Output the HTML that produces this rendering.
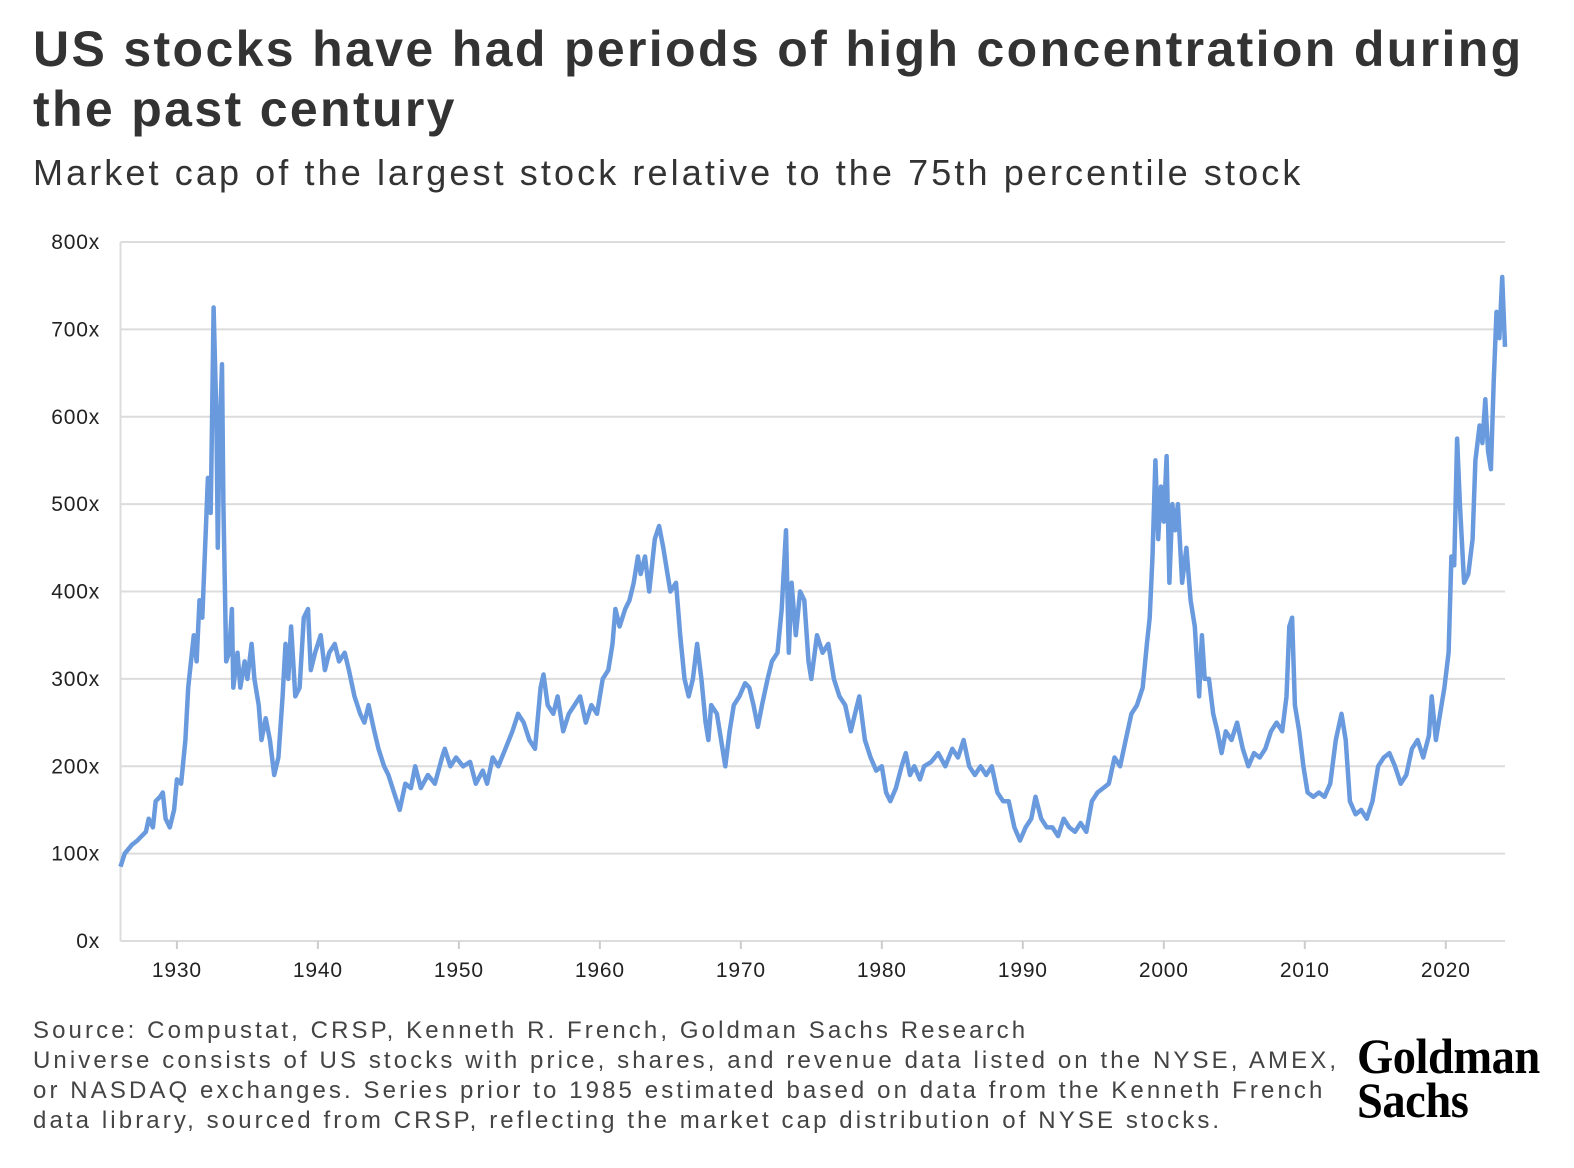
<!DOCTYPE html>
<html><head><meta charset="utf-8">
<style>
body{margin:0;width:1574px;height:1168px;background:#fff;font-family:"Liberation Sans",sans-serif;color:#333;position:relative;overflow:hidden}
#title{position:absolute;left:33px;top:19px;font-size:50px;font-weight:bold;line-height:60px;letter-spacing:2.35px;color:#333;width:1540px;white-space:nowrap}
#subtitle{position:absolute;left:33px;top:152px;font-size:36px;letter-spacing:3.1px;color:#333;white-space:nowrap}
#source{position:absolute;left:33px;top:1016px;font-size:24px;line-height:30px;letter-spacing:3.1px;color:#444;width:1318px}
#logo{position:absolute;left:1357px;top:1034px;font-family:"Liberation Serif",serif;font-weight:bold;font-size:50px;line-height:44px;color:#000;transform:scaleX(0.93);transform-origin:left top;letter-spacing:-0.5px}
svg{position:absolute;left:0;top:0}
</style></head><body>
<div id="title">US stocks have had periods of high concentration during<br>the past century</div>
<div id="subtitle">Market cap of the largest stock relative to the 75th percentile stock</div>
<svg id="chart" width="1574" height="1168"></svg>
<div id="source">Source: Compustat, CRSP, Kenneth R. French, Goldman Sachs Research<br>Universe consists of US stocks with price, shares, and revenue data listed on the NYSE, AMEX,<br>or NASDAQ exchanges. Series prior to 1985 estimated based on data from the Kenneth French<br>data library, sourced from CRSP, reflecting the market cap distribution of NYSE stocks.</div>
<div id="logo">Goldman<br>Sachs</div>
<script>
const yTicks=[0,100,200,300,400,500,600,700,800];
const yTickLabels=["0x","100x","200x","300x","400x","500x","600x","700x","800x"];
const xTicks=[1930,1940,1950,1960,1970,1980,1990,2000,2010,2020];
const years=[1926.0,1926.3,1926.8,1927.2,1927.5,1927.8,1928.0,1928.3,1928.5,1928.8,1929.0,1929.2,1929.5,1929.8,1930.0,1930.3,1930.6,1930.8,1931.0,1931.2,1931.4,1931.6,1931.8,1932.0,1932.2,1932.4,1932.5,1932.6,1932.8,1932.9,1933.0,1933.2,1933.3,1933.5,1933.7,1933.9,1934.0,1934.3,1934.5,1934.8,1935.0,1935.3,1935.5,1935.8,1936.0,1936.3,1936.6,1936.9,1937.2,1937.5,1937.7,1937.9,1938.1,1938.4,1938.7,1939.0,1939.3,1939.5,1939.8,1940.2,1940.5,1940.8,1941.2,1941.5,1941.9,1942.2,1942.6,1943.0,1943.3,1943.6,1944.0,1944.3,1944.7,1945.0,1945.4,1945.8,1946.2,1946.6,1946.9,1947.3,1947.8,1948.3,1948.8,1949.0,1949.4,1949.8,1950.3,1950.8,1951.2,1951.7,1952.0,1952.4,1952.8,1953.3,1953.8,1954.2,1954.6,1955.0,1955.4,1955.8,1956.0,1956.3,1956.7,1957.0,1957.4,1957.8,1958.2,1958.6,1959.0,1959.4,1959.8,1960.2,1960.6,1960.9,1961.1,1961.4,1961.8,1962.1,1962.4,1962.7,1962.9,1963.2,1963.5,1963.9,1964.2,1964.5,1964.8,1965.0,1965.4,1965.7,1966.0,1966.3,1966.6,1966.9,1967.2,1967.5,1967.7,1967.9,1968.3,1968.6,1968.9,1969.2,1969.5,1969.9,1970.3,1970.6,1970.9,1971.2,1971.5,1971.9,1972.2,1972.6,1972.9,1973.2,1973.4,1973.6,1973.9,1974.2,1974.5,1974.8,1975.0,1975.4,1975.8,1976.2,1976.6,1977.0,1977.4,1977.8,1978.1,1978.4,1978.8,1979.2,1979.6,1980.0,1980.3,1980.6,1981.0,1981.4,1981.7,1982.0,1982.3,1982.7,1983.0,1983.5,1984.0,1984.5,1985.0,1985.4,1985.8,1986.2,1986.6,1987.0,1987.4,1987.8,1988.2,1988.6,1989.0,1989.4,1989.8,1990.2,1990.6,1990.9,1991.3,1991.7,1992.1,1992.5,1992.9,1993.3,1993.7,1994.1,1994.5,1994.9,1995.3,1995.7,1996.1,1996.5,1996.9,1997.3,1997.7,1998.1,1998.5,1998.8,1999.0,1999.2,1999.4,1999.6,1999.8,2000.0,2000.2,2000.4,2000.6,2000.8,2001.0,2001.3,2001.6,2001.9,2002.2,2002.5,2002.7,2002.9,2003.2,2003.5,2003.8,2004.1,2004.4,2004.8,2005.2,2005.6,2006.0,2006.4,2006.8,2007.2,2007.6,2008.0,2008.4,2008.7,2008.9,2009.1,2009.3,2009.6,2009.9,2010.2,2010.6,2011.0,2011.4,2011.8,2012.2,2012.6,2012.9,2013.2,2013.6,2014.0,2014.4,2014.8,2015.2,2015.6,2016.0,2016.4,2016.8,2017.2,2017.6,2018.0,2018.4,2018.8,2019.0,2019.3,2019.6,2019.9,2020.2,2020.4,2020.6,2020.8,2021.0,2021.3,2021.6,2021.9,2022.1,2022.4,2022.6,2022.8,2023.0,2023.2,2023.4,2023.6,2023.8,2024.0,2024.2];
const values=[85,100,110,115,120,125,140,130,160,165,170,140,130,150,185,180,230,290,320,350,320,390,370,450,530,490,600,725,600,450,560,660,500,320,330,380,290,330,290,320,300,340,300,270,230,255,230,190,210,280,340,300,360,280,290,370,380,310,330,350,310,330,340,320,330,310,280,260,250,270,240,220,200,190,170,150,180,175,200,175,190,180,210,220,200,210,200,205,180,195,180,210,200,220,240,260,250,230,220,290,305,270,260,280,240,260,270,280,250,270,260,300,310,340,380,360,380,390,410,440,420,440,400,460,475,450,420,400,410,350,300,280,300,340,300,250,230,270,260,230,200,240,270,280,295,290,270,245,270,300,320,330,380,470,330,410,350,400,390,320,300,350,330,340,300,280,270,240,260,280,230,210,195,200,170,160,175,200,215,190,200,185,200,205,215,200,220,210,230,200,190,200,190,200,170,160,160,130,115,130,140,165,140,130,130,120,140,130,125,135,125,160,170,175,180,210,200,230,260,270,290,340,370,440,550,460,520,480,555,410,500,470,500,410,450,390,360,280,350,300,300,260,240,215,240,230,250,220,200,215,210,220,240,250,240,280,360,370,270,240,200,170,165,170,165,180,230,260,230,160,145,150,140,160,200,210,215,200,180,190,220,230,210,235,280,230,260,290,330,440,430,575,500,410,420,460,550,590,570,620,560,540,640,720,690,760,680];
const NS='http://www.w3.org/2000/svg';
const svg=document.getElementById('chart');
const x0=120.5,x1=1505,yr0=1926.0,yr1=2024.2,yb=941,yt=242;
function xs(v){return x0+(v-yr0)/(yr1-yr0)*(x1-x0);}
function ys(v){return yb-(v/800)*(yb-yt);}
function mk(t,a){const e=document.createElementNS(NS,t);for(const k in a)e.setAttribute(k,a[k]);svg.appendChild(e);return e;}
yTicks.forEach((v,i)=>{
  const g=mk('line',{x1:x0,x2:x1,y1:ys(v),y2:ys(v),stroke:'#dcdcdc','stroke-width':2});
  
  
  const t=mk('text',{x:100,y:ys(v)+7,'text-anchor':'end','font-size':21,'letter-spacing':0.8,fill:'#222','font-family':'Liberation Sans, sans-serif'});
  t.textContent=yTickLabels[i];
  
  
});
const ax=mk('line',{x1:x0,x2:x0,y1:yt,y2:yb,stroke:'#dcdcdc','stroke-width':2});


xTicks.forEach(v=>{
  const tk=mk('line',{x1:xs(v),x2:xs(v),y1:yb,y2:yb+8,stroke:'#ccc','stroke-width':2});
  
  
  const t=mk('text',{x:xs(v),y:yb+36,'text-anchor':'middle','font-size':21,'letter-spacing':0.8,fill:'#222','font-family':'Liberation Sans, sans-serif'});
  t.textContent=String(v);
  
  
});
let d='';
years.forEach((y,i)=>{d+=(i?'L':'M')+xs(y).toFixed(1)+','+ys(values[i]).toFixed(1);});
const p=mk('path',{d:d,fill:'none',stroke:'#6a9ade','stroke-width':4.5,'stroke-linejoin':'round'});


</script>
</body></html>
